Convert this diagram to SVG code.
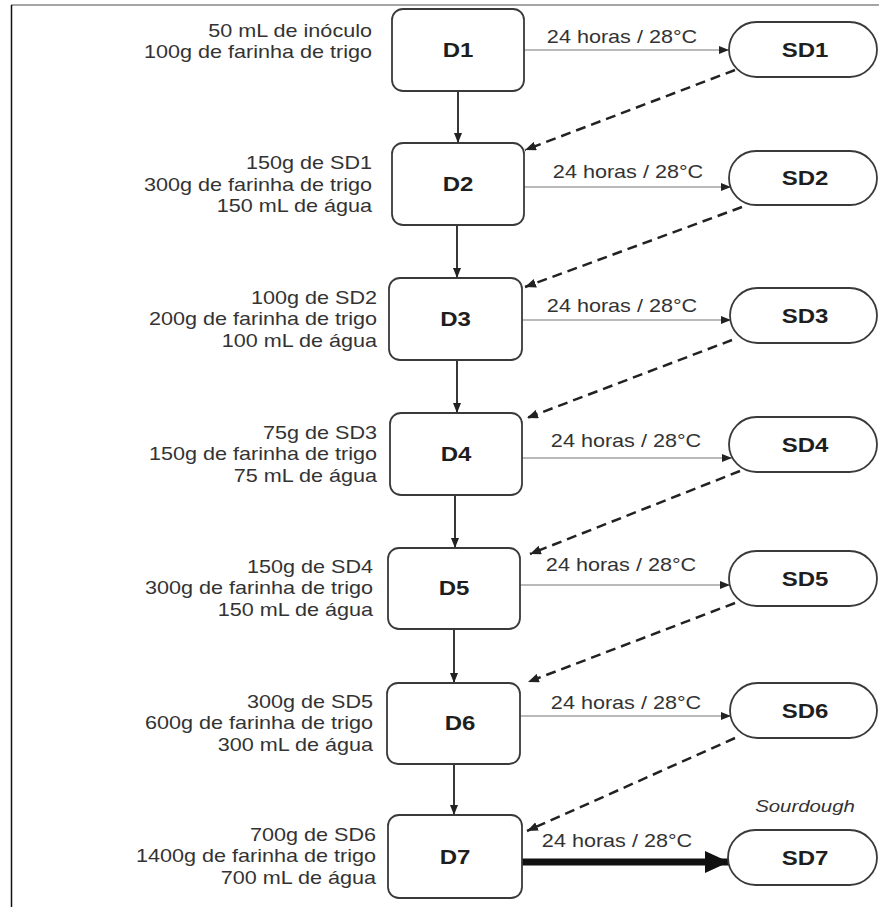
<svg xmlns="http://www.w3.org/2000/svg" width="879" height="907" viewBox="0 0 879 907">
<defs>
<style>
.box{fill:#fff;stroke:#3a3a3a;stroke-width:1.8}
.pill{fill:#fff;stroke:#3a3a3a;stroke-width:1.8}
.lbl{font-family:"Liberation Sans",Arial,sans-serif;font-weight:bold;font-size:20px;fill:#1e1e1e;text-anchor:middle}
.ing{font-family:"Liberation Sans",Arial,sans-serif;font-size:18px;fill:#333;text-anchor:end}
.cond{font-family:"Liberation Sans",Arial,sans-serif;font-size:18px;fill:#333;text-anchor:middle}
.note{font-family:"Liberation Sans",Arial,sans-serif;font-style:italic;font-size:17px;fill:#333;text-anchor:middle}
.vline{stroke:#222;stroke-width:1.8;fill:none}
.hline{stroke:#777;stroke-width:1.2;fill:none}
.dline{stroke:#222;stroke-width:2.5;stroke-dasharray:10 6;fill:none}
.thick{stroke:#111;stroke-width:7;fill:none}
</style>
<marker id="ah" markerUnits="userSpaceOnUse" markerWidth="10" markerHeight="8" viewBox="0 0 10 8" refX="10" refY="4" orient="auto">
<path d="M0,0 L10,4 L0,8 z" fill="#222"/>
</marker>
<marker id="ahd" markerUnits="userSpaceOnUse" markerWidth="11" markerHeight="9" viewBox="0 0 11 9" refX="11" refY="4.5" orient="auto">
<path d="M0,0 L11,4.5 L0,9 z" fill="#222"/>
</marker>
<marker id="ahb" markerUnits="userSpaceOnUse" markerWidth="24" markerHeight="22" viewBox="0 0 24 22" refX="24" refY="11" orient="auto">
<path d="M0,0 L24,11 L0,22 z" fill="#111"/>
</marker>
</defs>
<rect x="0" y="0" width="879" height="907" fill="#fff"/>
<g id="frame">
<line x1="11" y1="5" x2="879" y2="5" stroke="#888" stroke-width="1.5"/>
<line x1="11.5" y1="5" x2="11.5" y2="907" stroke="#111" stroke-width="1.5"/>
</g>

<g id="connectors">
<line class="vline" x1="458" y1="91" x2="458" y2="143" marker-end="url(#ah)"/>
<line class="vline" x1="457" y1="225" x2="457" y2="278" marker-end="url(#ah)"/>
<line class="vline" x1="457" y1="360" x2="457" y2="413" marker-end="url(#ah)"/>
<line class="vline" x1="455" y1="495" x2="455" y2="548" marker-end="url(#ah)"/>
<line class="vline" x1="454" y1="629" x2="454" y2="683" marker-end="url(#ah)"/>
<line class="vline" x1="454" y1="764" x2="454" y2="815" marker-end="url(#ah)"/>

<line class="hline" x1="524" y1="50" x2="729" y2="50" marker-end="url(#ah)"/>
<line class="hline" x1="524" y1="187" x2="731" y2="187" marker-end="url(#ah)"/>
<line class="hline" x1="522" y1="320" x2="731" y2="320" marker-end="url(#ah)"/>
<line class="hline" x1="522" y1="458" x2="732" y2="458" marker-end="url(#ah)"/>
<line class="hline" x1="520" y1="585" x2="730" y2="585" marker-end="url(#ah)"/>
<line class="hline" x1="520" y1="716" x2="731" y2="716" marker-end="url(#ah)"/>
<line class="thick" x1="522" y1="862" x2="729" y2="862" marker-end="url(#ahb)"/>

<line class="dline" x1="735" y1="70" x2="525" y2="150" marker-end="url(#ahd)"/>
<line class="dline" x1="742" y1="207" x2="525" y2="287" marker-end="url(#ahd)"/>
<line class="dline" x1="732" y1="340" x2="527" y2="418" marker-end="url(#ahd)"/>
<line class="dline" x1="740" y1="471" x2="530" y2="554" marker-end="url(#ahd)"/>
<line class="dline" x1="735" y1="603" x2="528" y2="682" marker-end="url(#ahd)"/>
<line class="dline" x1="735" y1="738" x2="527" y2="831" marker-end="url(#ahd)"/>

<text class="cond" transform="translate(622 0) scale(1.2 1)" x="0" y="43">24 horas / 28°C</text>
<text class="cond" transform="translate(628 0) scale(1.2 1)" x="0" y="178">24 horas / 28°C</text>
<text class="cond" transform="translate(622 0) scale(1.2 1)" x="0" y="312">24 horas / 28°C</text>
<text class="cond" transform="translate(626 0) scale(1.2 1)" x="0" y="447">24 horas / 28°C</text>
<text class="cond" transform="translate(621 0) scale(1.2 1)" x="0" y="571">24 horas / 28°C</text>
<text class="cond" transform="translate(626 0) scale(1.2 1)" x="0" y="709">24 horas / 28°C</text>
<text class="cond" transform="translate(617 0) scale(1.2 1)" x="0" y="847">24 horas / 28°C</text>
</g>

<g id="D1">
<rect class="box" x="392" y="9" width="132" height="82" rx="11"/>
<text class="lbl" transform="translate(458 0) scale(1.2 1)" x="0" y="57">D1</text>
<text class="ing" transform="translate(372 0) scale(1.2 1)"><tspan x="0" y="37">50 mL de inóculo</tspan><tspan x="0" y="58">100g de farinha de trigo</tspan></text>
</g>
<g id="D2">
<rect class="box" x="392" y="143" width="132" height="82" rx="11"/>
<text class="lbl" transform="translate(458 0) scale(1.2 1)" x="0" y="191">D2</text>
<text class="ing" transform="translate(372 0) scale(1.2 1)"><tspan x="0" y="169.5">150g de SD1</tspan><tspan x="0" y="191">300g de farinha de trigo</tspan><tspan x="0" y="212.5">150 mL de água</tspan></text>
</g>
<g id="D3">
<rect class="box" x="389" y="278" width="133" height="82" rx="11"/>
<text class="lbl" transform="translate(455.5 0) scale(1.2 1)" x="0" y="326">D3</text>
<text class="ing" transform="translate(377 0) scale(1.2 1)"><tspan x="0" y="304">100g de SD2</tspan><tspan x="0" y="325.5">200g de farinha de trigo</tspan><tspan x="0" y="347">100 mL de água</tspan></text>
</g>
<g id="D4">
<rect class="box" x="390" y="413" width="132" height="82" rx="11"/>
<text class="lbl" transform="translate(456 0) scale(1.2 1)" x="0" y="461">D4</text>
<text class="ing" transform="translate(377 0) scale(1.2 1)"><tspan x="0" y="439">75g de SD3</tspan><tspan x="0" y="460.5">150g de farinha de trigo</tspan><tspan x="0" y="482">75 mL de água</tspan></text>
</g>
<g id="D5">
<rect class="box" x="388" y="548" width="132" height="81" rx="11"/>
<text class="lbl" transform="translate(454 0) scale(1.2 1)" x="0" y="595">D5</text>
<text class="ing" transform="translate(373 0) scale(1.2 1)"><tspan x="0" y="573">150g de SD4</tspan><tspan x="0" y="594.5">300g de farinha de trigo</tspan><tspan x="0" y="616">150 mL de água</tspan></text>
</g>
<g id="D6">
<rect class="box" x="387" y="683" width="133" height="81" rx="11"/>
<text class="lbl" transform="translate(460 0) scale(1.2 1)" x="0" y="730">D6</text>
<text class="ing" transform="translate(373 0) scale(1.2 1)"><tspan x="0" y="708">300g de SD5</tspan><tspan x="0" y="729.5">600g de farinha de trigo</tspan><tspan x="0" y="751">300 mL de água</tspan></text>
</g>
<g id="D7">
<rect class="box" x="388" y="815" width="134" height="83" rx="11"/>
<text class="lbl" transform="translate(455 0) scale(1.2 1)" x="0" y="864">D7</text>
<text class="ing" transform="translate(376 0) scale(1.2 1)"><tspan x="0" y="841">700g de SD6</tspan><tspan x="0" y="862.5">1400g de farinha de trigo</tspan><tspan x="0" y="884">700 mL de água</tspan></text>
</g>

<g id="SD1">
<rect class="pill" x="729" y="22" width="148" height="55" rx="27.5"/>
<text class="lbl" transform="translate(805 0) scale(1.2 1)" x="0" y="57">SD1</text>
</g>
<g id="SD2">
<rect class="pill" x="729" y="151" width="148" height="54" rx="27"/>
<text class="lbl" transform="translate(805 0) scale(1.2 1)" x="0" y="185">SD2</text>
</g>
<g id="SD3">
<rect class="pill" x="730" y="288" width="147" height="55" rx="27.5"/>
<text class="lbl" transform="translate(805 0) scale(1.2 1)" x="0" y="323">SD3</text>
</g>
<g id="SD4">
<rect class="pill" x="729" y="417" width="148" height="55" rx="27.5"/>
<text class="lbl" transform="translate(805 0) scale(1.2 1)" x="0" y="452">SD4</text>
</g>
<g id="SD5">
<rect class="pill" x="729" y="551" width="148" height="55" rx="27.5"/>
<text class="lbl" transform="translate(805 0) scale(1.2 1)" x="0" y="586">SD5</text>
</g>
<g id="SD6">
<rect class="pill" x="730" y="683" width="147" height="55" rx="27.5"/>
<text class="lbl" transform="translate(805 0) scale(1.2 1)" x="0" y="718">SD6</text>
</g>
<g id="SD7">
<text class="note" transform="translate(805 0) scale(1.2 1)" x="0" y="812">Sourdough</text>
<rect class="pill" x="728" y="830" width="149" height="55" rx="27.5"/>
<text class="lbl" transform="translate(805 0) scale(1.2 1)" x="0" y="865">SD7</text>
</g>
</svg>
